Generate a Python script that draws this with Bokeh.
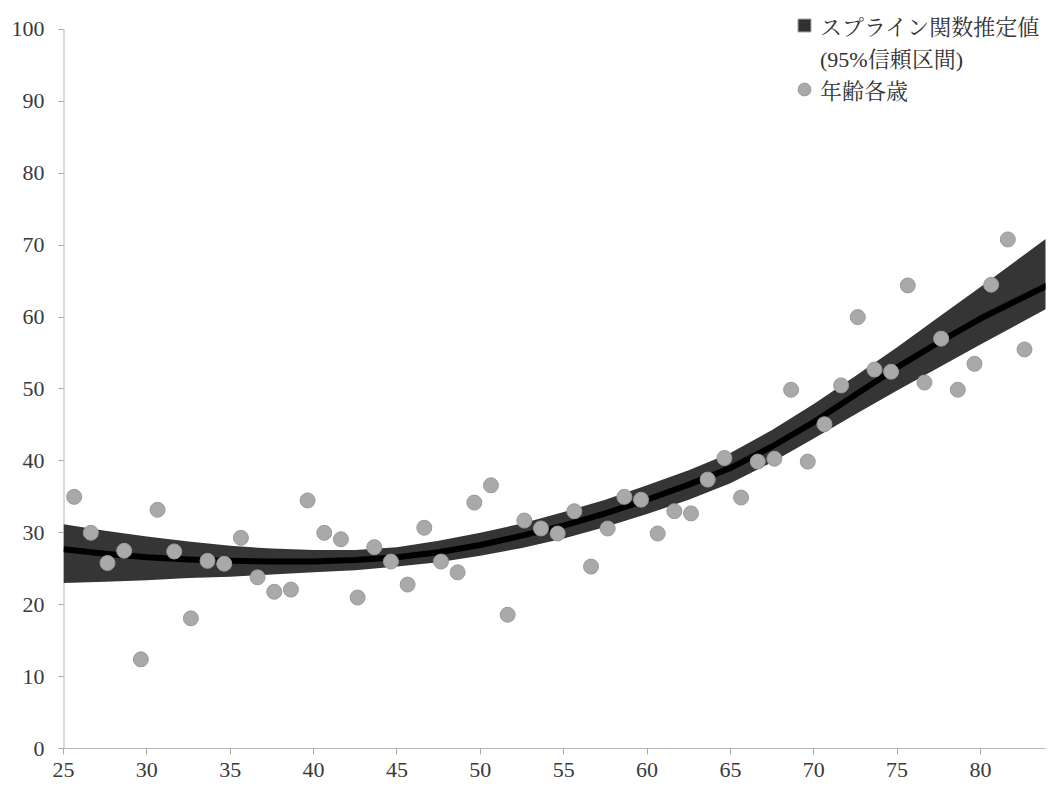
import math
from bokeh.plotting import figure
from bokeh.models import ColumnDataSource, Range1d, FixedTicker, Legend, LegendItem
from bokeh.transform import dodge
from bokeh.embed import file_html
from bokeh.resources import INLINE

# Observed values per age (年齢各歳)
ages = list(range(26, 84))
observed = [35.0, 30.0, 25.8, 27.5, 12.4, 33.2, 27.4, 18.1, 26.1, 25.7,
            29.3, 23.8, 21.8, 22.1, 34.5, 30.0, 29.1, 21.0, 28.0, 26.0,
            22.8, 30.7, 26.0, 24.5, 34.2, 36.6, 18.6, 31.7, 30.6, 29.9,
            33.0, 25.3, 30.6, 35.0, 34.6, 29.9, 33.0, 32.7, 37.4, 40.4,
            34.9, 39.9, 40.3, 49.9, 39.9, 45.1, 50.5, 60.0, 52.7, 52.4,
            64.4, 50.9, 57.0, 49.9, 53.5, 64.5, 70.8, 55.5]

# Spline estimate with 95% confidence interval
spline_x = [25, 27.5, 30, 32.5, 35, 37.5, 40, 42.5, 45, 47.5, 50, 52.5, 55,
            57.5, 60, 62.5, 65, 67.5, 70, 72.5, 75, 77.5, 80, 82, 84]
spline_fit = [27.7, 27.1, 26.6, 26.3, 26.1, 26.0, 26.0, 26.2, 26.6, 27.3, 28.3, 29.6, 31.0,
              32.7, 34.6, 36.7, 39.0, 42.0, 45.4, 49.2, 53.0, 56.5, 59.8, 62.1, 64.4]
spline_upper = [31.2, 30.3, 29.5, 28.8, 28.2, 27.8, 27.6, 27.6, 28.0, 28.9, 30.0, 31.3, 32.9,
                34.6, 36.6, 38.7, 41.1, 44.3, 47.9, 51.8, 55.8, 60.0, 64.2, 67.6, 71.0]
spline_lower = [23.0, 23.2, 23.4, 23.7, 23.9, 24.2, 24.5, 24.8, 25.3, 25.9, 26.8, 27.9, 29.2,
                30.8, 32.6, 34.6, 36.9, 39.8, 43.1, 46.5, 49.8, 53.0, 56.2, 58.7, 61.2]

x_ticks = [25, 30, 35, 40, 45, 50, 55, 60, 65, 70, 75, 80]
y_ticks = [0, 10, 20, 30, 40, 50, 60, 70, 80, 90, 100]

label_font = "'Liberation Serif', 'Noto Serif CJK JP', 'Noto Sans CJK JP'"

# frame extends above 100 so the legend (which sits above the y=100 level) is not clipped
p = figure(frame_width=982, frame_height=748, output_backend="svg", toolbar_location=None,
           x_range=Range1d(25, 83.9), y_range=Range1d(0, 104.03),
           min_border_left=63, min_border_right=15, min_border_top=0, min_border_bottom=38)
p.outline_line_color = None
p.xgrid.visible = False
p.ygrid.visible = False
p.background_fill_color = "white"

band_src = ColumnDataSource(dict(x=spline_x, fit=spline_fit, lo=spline_lower, hi=spline_upper))
pts_src = ColumnDataSource(dict(age=ages, val=observed))

# y axis line only up to the last tick (100)
p.segment(x0=[x_ticks[0]], y0=[y_ticks[0]], x1=[x_ticks[0]], y1=[y_ticks[-1]],
          line_color="#b8b8b8", line_width=2)

band = p.varea(x="x", y1="lo", y2="hi", source=band_src, fill_color="#353535")
p.line(x="x", y="fit", source=band_src, line_color="black", line_width=6, line_join="round")
pts = p.scatter(x=dodge("age", -0.36), y="val", source=pts_src, size=15,
                fill_color="#a9a9a9", line_color="#9a9a9a", line_width=1)

# legend-only markers (NaN: nothing drawn in the plot)
band_key = p.scatter(x=[math.nan], y=[math.nan], marker="square", size=10, fill_color="#303030",
                     line_color="#8a8a8a", line_width=1)
blank_key = p.scatter(x=[math.nan], y=[math.nan], size=1, fill_alpha=0, line_alpha=0)

for ax in (p.xaxis[0], p.yaxis[0]):
    ax.axis_line_color = "#b8b8b8"
    ax.axis_line_width = 1
    ax.major_tick_line_color = "#a8a8a8"
    ax.minor_tick_line_color = None
    ax.major_tick_in = 0
    ax.major_label_text_font = "Liberation Serif"
    ax.major_label_text_font_size = "22px"
    ax.major_label_text_color = "#3a3a3a"
p.yaxis[0].axis_line_color = None

p.xaxis[0].ticker = FixedTicker(ticks=x_ticks)
p.yaxis[0].ticker = FixedTicker(ticks=y_ticks)
p.xaxis[0].major_tick_out = 6
p.yaxis[0].major_tick_out = 5
p.xaxis[0].major_label_standoff = 8
p.yaxis[0].major_label_standoff = 14

legend = Legend(items=[
    LegendItem(label="スプライン関数推定値", renderers=[band_key]),
    LegendItem(label="(95%信頼区間)", renderers=[blank_key]),
    LegendItem(label="年齢各歳", renderers=[pts]),
], location=(725, 643), orientation="vertical")
legend.background_fill_alpha = 0
legend.border_line_color = None
legend.padding = 0
legend.margin = 0
legend.spacing = -2
legend.glyph_width = 32
legend.glyph_height = 32
legend.label_standoff = 0
legend.label_text_font = label_font
legend.label_text_font_size = "22px"
legend.label_text_color = "#333333"
p.add_layout(legend, "center")

open("out.html", "w").write(file_html(p, INLINE))
